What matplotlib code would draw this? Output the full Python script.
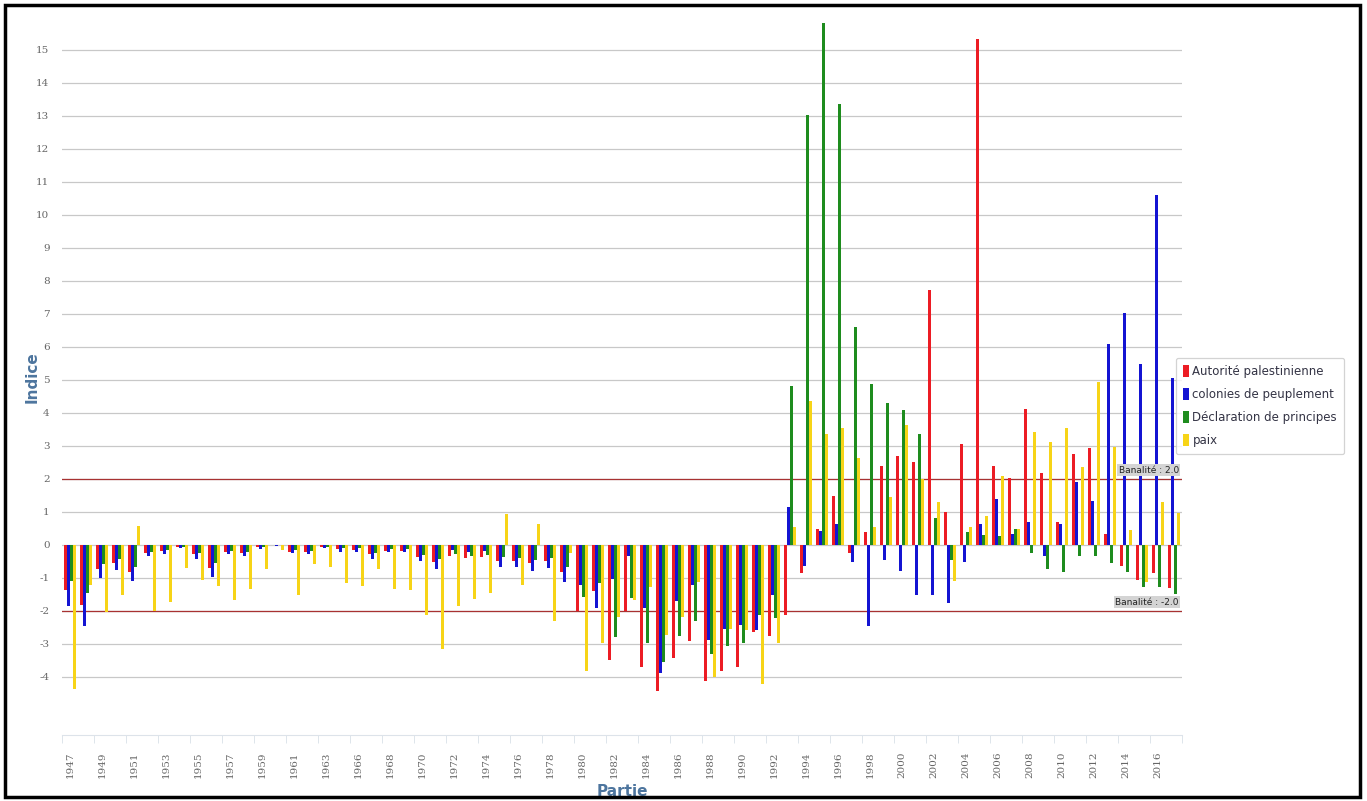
import matplotlib
matplotlib.use("Agg")
import matplotlib.pyplot as plt
from matplotlib.patches import Patch, Rectangle
import numpy as np

# Years shown on the x axis (no 1965 in the source data)
years = list(range(1947, 1965)) + list(range(1966, 2018))

series_names = ["Autorité palestinienne", "colonies de peuplement",
                "Déclaration de principes", "paix"]

autorite = [-1.36, -1.82, -0.74, -0.54, -0.81, -0.23, -0.18, -0.05, -0.27, -0.71,
            -0.20, -0.23, -0.07, -0.01, -0.20, -0.22, -0.07, -0.13, -0.15, -0.28,
            -0.18, -0.18, -0.37, -0.53, -0.33, -0.40, -0.38, -0.48, -0.48, -0.56,
            -0.50, -0.81, -2.00, -1.41, -3.50, -1.99, -3.69, -4.42, -3.43, -2.90,
            -4.12, -3.81, -3.69, -2.65, -2.76, -2.13, -0.86, 0.49, 1.47, -0.24,
            0.38, 2.39, 2.71, 2.52, 7.74, 1.00, 3.06, 15.33, 2.40, 2.02,
            4.11, 2.19, 0.71, 2.76, 2.95, 0.33, -0.64, -1.06, -0.86, -1.31]

colonies = [-1.84, -2.45, -1.01, -0.76, -1.09, -0.33, -0.28, -0.10, -0.42, -0.98,
            -0.28, -0.35, -0.12, -0.02, -0.25, -0.28, -0.10, -0.20, -0.22, -0.42,
            -0.22, -0.22, -0.50, -0.73, -0.15, -0.20, -0.18, -0.68, -0.68, -0.78,
            -0.69, -1.11, -1.21, -1.92, -1.04, -0.35, -1.92, -3.87, -1.69, -1.21,
            -2.88, -2.55, -2.42, -2.58, -1.52, 1.15, -0.65, 0.41, 0.62, -0.53,
            -2.45, -0.45, -0.79, -1.53, -1.53, -1.76, -0.51, 0.62, 1.40, 0.33,
            0.69, -0.35, 0.63, 1.92, 1.33, 6.09, 7.02, 5.48, 10.60, 5.05]

declaration = [-1.10, -1.46, -0.58, -0.42, -0.66, -0.20, -0.15, -0.05, -0.25, -0.56,
               -0.18, -0.20, -0.05, -0.01, -0.15, -0.18, -0.05, -0.10, -0.10, -0.25,
               -0.13, -0.13, -0.30, -0.42, -0.27, -0.32, -0.30, -0.38, -0.40, -0.45,
               -0.40, -0.66, -1.57, -1.16, -2.80, -1.62, -2.98, -3.56, -2.76, -2.32,
               -3.30, -3.06, -2.96, -2.12, -2.22, 4.83, 13.02, 15.82, 13.35, 6.62,
               4.88, 4.29, 4.09, 3.35, 0.81, -0.47, 0.38, 0.29, 0.27, 0.47,
               -0.25, -0.73, -0.83, -0.35, -0.32, -0.56, -0.83, -1.26, -1.28, -1.49]

paix = [-4.36, -1.21, -2.04, -1.52, 0.56, -1.99, -1.73, -0.69, -1.06, -1.23,
        -1.67, -1.33, -0.72, -0.15, -1.52, -0.58, -0.68, -1.16, -1.23, -0.74,
        -1.33, -1.38, -2.11, -3.15, -1.84, -1.64, -1.45, 0.93, -1.21, 0.63,
        -2.29, -0.25, -3.81, -2.98, -2.17, -1.67, -1.26, -2.73, -2.19, -1.11,
        -3.99, -2.56, -2.58, -4.21, -2.98, 0.53, 4.35, 3.35, 3.55, 2.65,
        0.55, 1.44, 3.62, 2.00, 1.29, -1.08, 0.55, 0.88, 2.09, 0.47,
        3.43, 3.11, 3.54, 2.37, 4.93, 2.98, 0.45, -1.11, 1.31, 0.96]

y_ticks = list(range(-4, 16))
banalite = [2.0, -2.0]

colors = ["#ec1c24", "#1414d2", "#1e8c1e", "#f7d417"]
title_color = "#4d759e"
label_color = "#666666"

fig = plt.figure(figsize=(13.67, 8.01), dpi=100)
ax = fig.add_axes([62 / 1367, 1 - 735 / 801, 1120 / 1367, 718 / 801])

x = np.arange(len(years))
offsets = [-0.3, -0.1, 0.1, 0.3]
for values, off, col in zip([autorite, colonies, declaration, paix], offsets, colors):
    ax.bar(x + off, values, width=0.17, color=col, linewidth=0, zorder=3)

ax.set_xlim(-0.5, len(years) - 0.5)
ax.set_ylim(-5.76, 16)

# horizontal grid
for t in y_ticks:
    ax.axhline(t, color="#c8c8c8", linewidth=0.9, zorder=1)

# reference lines "Banalité"
for b in banalite:
    ax.axhline(b, color="#a83232", linewidth=0.9, zorder=2)
    ax.annotate(f"Banalité : {b:.1f}", xy=(len(years) - 0.7, b), xytext=(0, 3),
                textcoords="offset points", ha="right", va="bottom",
                fontsize=6.5, color="#222222", zorder=5,
                bbox=dict(boxstyle="square,pad=0.15", fc="#d4d4d4", ec="none"))

ax.set_yticks(y_ticks)
ax.set_yticklabels([str(t) for t in y_ticks], family="DejaVu Serif",
                   fontsize=7.5, color=label_color)
ax.tick_params(axis="y", length=0, pad=9)

ax.set_xticks(x[::2])
ax.set_xticklabels([str(years[i]) for i in x[::2]], rotation=90,
                   family="DejaVu Serif", fontsize=7.5, color=label_color)
ax.set_xticks(np.arange(-0.5, len(years), 2), minor=True)
ax.tick_params(axis="x", which="major", length=0, pad=12)
ax.tick_params(axis="x", which="minor", length=6, color="#d8e0e8")

for side in ["top", "right", "left"]:
    ax.spines[side].set_visible(False)
ax.spines["bottom"].set_color("#dde3ea")

# axis titles
ax.set_ylabel("Indice", fontsize=11, fontweight="bold", color=title_color)
ax.yaxis.set_label_coords(-22 / 1120, (735 - 377) / 718)
ax.set_xlabel("Partie", fontsize=11, fontweight="bold", color=title_color, labelpad=4)

handles = [Patch(facecolor=c, edgecolor="none") for c in colors]
leg = fig.legend(handles, series_names, loc="upper left",
                 bbox_to_anchor=(1170 / 1367, 1 - 352 / 801),
                 fontsize=8.5, frameon=True, fancybox=True,
                 handlelength=0.5, handleheight=1.1, handletextpad=0.3,
                 labelspacing=0.85, borderpad=0.6)
leg.get_frame().set_edgecolor("#c8c8c8")
leg.get_frame().set_linewidth(0.9)
for txt in leg.get_texts():
    txt.set_color("#333344")

# black frame around the picture
fig.patches.append(Rectangle((5 / 1367, 4 / 801), 1355 / 1367, 792 / 801,
                             transform=fig.transFigure, fill=False,
                             edgecolor="black", linewidth=2.5))

fig.savefig("out.png", dpi=100)
